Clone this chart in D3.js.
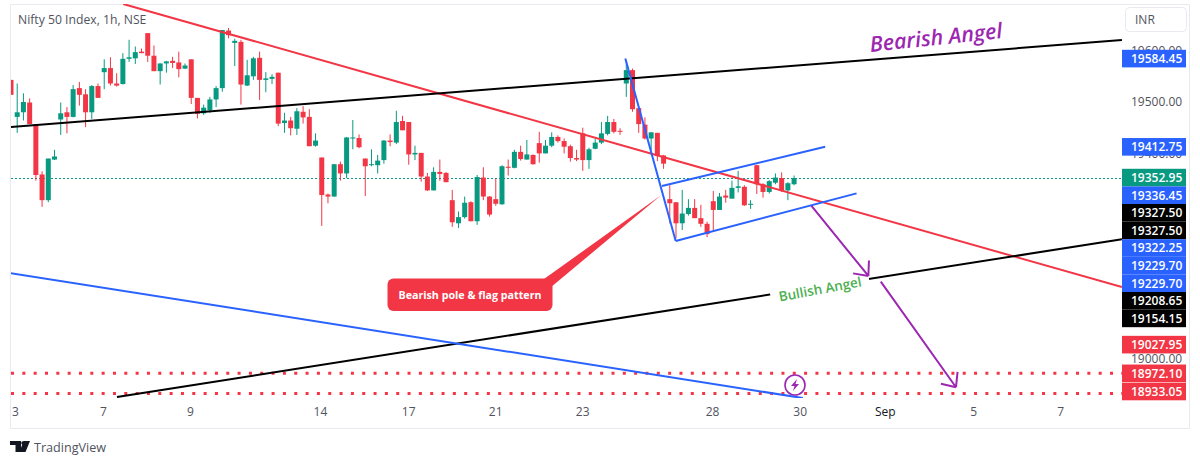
<!DOCTYPE html>
<html>
<head>
<meta charset="utf-8">
<title>Nifty 50 Index</title>
<script src="https://cdn.jsdelivr.net/npm/d3@7"></script>
<style>
    html, body { margin: 0; padding: 0; background: #fff; overflow: hidden; }
    text { font-family: "Open Sans", sans-serif; }
</style>
</head>
<body>
<div id="chart"></div>
<script>
'use strict'

// hourly candles
const opens = [19543,19471,19480,19499,19457,19359,19309,19388,19466,19480,19471,19527,19515,19480,19531,19558,19566,19536,19535,19584,19585,19598,19634,19590,19560,19575,19580,19577,19565,19583,19508,19478,19484,19505,19527,19639,19615,19617,19532,19550,19586,19543,19545,19557,19459,19464,19448,19481,19471,19415,19392,19320,19316,19379,19361,19429,19430,19390,19377,19377,19387,19425,19421,19463,19461,19398,19401,19355,19328,19364,19362,19309,19264,19276,19305,19268,19353,19316,19311,19301,19374,19372,19403,19388,19397,19420,19400,19415,19432,19424,19414,19391,19439,19387,19409,19421,19438,19461,19444,19536,19562,19488,19456,19429,19440,19396,19311,19305,19264,19282,19294,19274,19263,19307,19290,19318,19312,19333,19335,19300,19377,19340,19325,19343,19352,19328,19340];
const highs = [19543,19536,19517,19507,19457,19365,19390,19407,19499,19490,19533,19539,19525,19533,19536,19583,19587,19556,19595,19621,19608,19604,19634,19610,19575,19580,19588,19598,19575,19583,19508,19495,19510,19531,19640,19644,19623,19621,19582,19588,19598,19558,19554,19557,19479,19471,19488,19492,19486,19439,19392,19322,19379,19384,19432,19465,19437,19390,19408,19397,19426,19437,19483,19473,19461,19415,19401,19362,19373,19388,19364,19329,19287,19316,19307,19358,19373,19317,19351,19377,19388,19407,19415,19426,19398,19442,19426,19441,19435,19429,19417,19407,19450,19411,19429,19461,19473,19467,19449,19581,19565,19488,19470,19441,19440,19397,19338,19305,19329,19311,19311,19300,19267,19327,19323,19329,19347,19366,19338,19309,19378,19342,19348,19361,19363,19344,19357];
const lows = [19514,19440,19464,19457,19347,19296,19305,19387,19436,19439,19470,19493,19451,19467,19508,19525,19532,19530,19534,19578,19574,19595,19578,19560,19534,19557,19566,19548,19564,19496,19468,19475,19479,19490,19520,19624,19570,19495,19531,19543,19504,19519,19535,19453,19440,19435,19436,19458,19414,19413,19259,19303,19316,19347,19352,19408,19410,19317,19375,19361,19380,19414,19418,19445,19378,19387,19345,19327,19328,19347,19344,19257,19255,19273,19268,19261,19309,19277,19298,19300,19357,19371,19386,19388,19378,19382,19400,19412,19421,19400,19384,19385,19366,19370,19408,19418,19435,19439,19436,19510,19481,19440,19427,19406,19385,19370,19264,19235,19251,19279,19274,19257,19237,19250,19290,19304,19312,19324,19298,19292,19321,19314,19322,19340,19325,19309,19338];
const closes = [19514,19480,19500,19457,19358,19309,19390,19394,19478,19471,19525,19514,19480,19531,19508,19566,19536,19532,19584,19587,19597,19595,19590,19560,19575,19579,19576,19564,19571,19508,19477,19489,19505,19527,19640,19630,19619,19534,19552,19585,19543,19546,19549,19458,19464,19449,19482,19470,19414,19425,19319,19316,19379,19361,19431,19431,19412,19375,19379,19386,19425,19422,19461,19445,19398,19401,19355,19328,19364,19360,19344,19266,19276,19304,19268,19354,19316,19281,19302,19375,19372,19403,19389,19398,19379,19400,19415,19432,19424,19413,19391,19388,19387,19408,19421,19439,19461,19442,19442,19562,19486,19457,19429,19441,19395,19380,19303,19264,19283,19294,19274,19263,19243,19290,19316,19314,19333,19336,19299,19302,19340,19325,19346,19353,19327,19342,19352];

const tickPositions = [0.64, 14.8, 28.8, 49.7, 63.9, 77.9, 91.9, 112.8, 126.9, 140.6, 154.8, 168.8];
const tickLabels = ["3", "7", "9", "14", "17", "21", "23", "28", "30", "Sep", "5", "7"];
const priceTicks = [19600, 19500, 19400, 19000];

// price tags on the right, top to bottom
const tagPrices = [19584.45, 19412.75, 19352.95, 19336.45, 19327.50, 19327.50, 19322.25, 19229.70, 19229.70, 19208.65, 19154.15, 19027.95, 18972.10, 18933.05];
const tagKinds = ["blue", "blue", "last", "blue", "black", "black", "blue", "blue", "blue", "black", "black", "red", "red", "red"];

// drawings as [bar, price, bar, price]
const blackLines = [[-0.2, 19451.4, 178.75, 19620.6], [17.05, 18926, 178.75, 19233]];
const redLines = [[18.05, 19690.7, 178.75, 19140]];
const blueLines = [
    [-0.2, 19167.3, 127.4, 18924],
    [98.85, 19584.45, 106.95, 19229.70],
    [106.95, 19229.70, 136.05, 19322.25],
    [104.75, 19336.45, 131, 19412.75]
];
const arrows = [[128.8, 19298, 137.95, 19161.5], [139.95, 19150.4, 152.05, 18945]];
const supportLevels = [18972.10, 18933.05];
const lastPrice = 19352.95;
const calloutTip = [104.65, 19319];

const red = "#f23645";
const green = "#089981";
const blue = "#2962ff";
const purple = "#9c27b0";
const grey = "#50535e";

const width = 1200;
const height = 465;
const plot = { left: 11, right: 1122, top: 4, bottom: 398 };

const svg = d3.select("#chart")
    .append("svg")
    .attr("width", width)
    .attr("height", height)
    .style("display", "block");

const x = d3.scaleLinear().domain([0, 126]).range([11, 11 + 126 * 6.215]);
const y = d3.scaleLinear().domain([19500, 19000]).range([102, 359]);

// frame
svg.append("path")
    .attr("d", "M10.5,4.5H1189.5V428.5H10.5Z")
    .attr("fill", "none")
    .attr("stroke", "#e9eaef");

svg.append("clipPath").attr("id", "plot-clip")
    .append("rect")
    .attr("x", plot.left)
    .attr("y", plot.top)
    .attr("width", plot.right - plot.left)
    .attr("height", plot.bottom - plot.top);

const pane = svg.append("g").attr("clip-path", "url(#plot-clip)");

// last price line sits under the candles
pane.append("line")
    .attr("x1", plot.left).attr("x2", plot.right)
    .attr("y1", Math.round(y(lastPrice)) + 0.5).attr("y2", Math.round(y(lastPrice)) + 0.5)
    .attr("stroke", green)
    .attr("stroke-dasharray", "2 2");

// candles
const candles = pane.selectAll(".candle")
    .data(opens.map((o, i) => ({ i, o, h: highs[i], l: lows[i], c: closes[i] })))
    .enter().append("g")
    .attr("class", "candle");

candles.append("line")
    .attr("x1", d => x(d.i)).attr("x2", d => x(d.i))
    .attr("y1", d => y(d.h)).attr("y2", d => y(d.l))
    .attr("stroke", d => d.c >= d.o ? green : red);

candles.append("rect")
    .attr("x", d => x(d.i) - 2.5)
    .attr("width", 5)
    .attr("y", d => y(Math.max(d.o, d.c)))
    .attr("height", d => Math.max(1, Math.abs(y(d.o) - y(d.c))))
    .attr("fill", d => d.c >= d.o ? green : red);

// dotted support levels
pane.selectAll(".support")
    .data(supportLevels)
    .enter().append("line")
    .attr("class", "support")
    .attr("x1", plot.left).attr("x2", plot.right)
    .attr("y1", d => y(d)).attr("y2", d => y(d))
    .attr("stroke", red)
    .attr("stroke-width", 3)
    .attr("stroke-dasharray", "3 8.33");

function drawLines(data, color, lineWidth) {
    pane.selectAll(null)
        .data(data)
        .enter().append("line")
        .attr("x1", d => x(d[0])).attr("y1", d => y(d[1]))
        .attr("x2", d => x(d[2])).attr("y2", d => y(d[3]))
        .attr("stroke", color)
        .attr("stroke-width", lineWidth);
}

drawLines(redLines, red, 2);
drawLines(blackLines, "#000", 2);
drawLines(blueLines, blue, 2);

// callout with its tail
pane.append("path")
    .attr("d", `M${x(calloutTip[0])},${y(calloutTip[1])}L552.3,286L544,279Z`)
    .attr("fill", red);
pane.append("rect")
    .attr("x", 387.5).attr("y", 278.5)
    .attr("width", 165).attr("height", 32.5)
    .attr("rx", 6)
    .attr("fill", red);
pane.append("text")
    .attr("x", 470).attr("y", 298.5)
    .attr("text-anchor", "middle")
    .style("font-size", "10.7px")
    .style("font-weight", 700)
    .style("fill", "#fff")
    .text("Bearish pole & flag pattern");

// Bullish Angel label breaks the lower black line
const bullish = pane.append("g").attr("transform", "translate(820,289) rotate(-10.5)");
bullish.append("rect")
    .attr("x", -50).attr("y", -10)
    .attr("width", 100).attr("height", 20)
    .attr("fill", "#fff");
bullish.append("text")
    .attr("text-anchor", "middle")
    .attr("y", 5)
    .style("font-size", "13.5px")
    .style("font-weight", 600)
    .style("fill", "#4caf50")
    .text("Bullish Angel");

pane.append("text")
    .attr("transform", "translate(936,38) rotate(-6)")
    .attr("text-anchor", "middle")
    .attr("y", 7)
    .style("font-size", "21.4px")
    .style("font-weight", 600)
    .style("font-style", "italic")
    .style("fill", purple)
    .text("Bearish Angel");

// purple arrows
arrows.forEach(a => {
    const x1 = x(a[2]);
    const y1 = y(a[3]);
    const angle = Math.atan2(y1 - y(a[1]), x1 - x(a[0]));
    const head = d3.path();
    head.moveTo(x(a[0]), y(a[1]));
    head.lineTo(x1, y1);
    [-0.72, 0.72].forEach(s => {
        head.moveTo(x1, y1);
        head.lineTo(x1 - 15.5 * Math.cos(angle + s), y1 - 15.5 * Math.sin(angle + s));
    });
    pane.append("path")
        .attr("d", head.toString())
        .attr("fill", "none")
        .attr("stroke", purple)
        .attr("stroke-width", 2);
});

// lightning marker
const marker = pane.append("g").attr("transform", "translate(795,385)");
marker.append("circle")
    .attr("r", 10)
    .attr("fill", "#fff")
    .attr("stroke", purple)
    .attr("stroke-width", 1.6);
marker.append("path")
    .attr("d", "M2,-6L-4,1H-0.5L-2,6L4,-1H0.5Z")
    .attr("fill", purple);

// price axis
const priceAxis = svg.append("g")
    .attr("transform", `translate(1128,0)`)
    .call(d3.axisRight(y).tickValues(priceTicks).tickSize(0).tickFormat(d => d.toFixed(2)));
priceAxis.select(".domain").remove();
priceAxis.selectAll("text")
    .attr("x", 3)
    .style("font-family", '"Open Sans", sans-serif')
    .style("font-size", "12px")
    .style("fill", grey);

// time axis
const timeAxis = svg.append("g")
    .attr("transform", "translate(0,404)")
    .call(d3.axisBottom(x).tickValues(tickPositions).tickSize(0).tickFormat((d, i) => tickLabels[i]));
timeAxis.select(".domain").remove();
timeAxis.selectAll("text")
    .attr("y", 3)
    .style("font-family", '"Open Sans", sans-serif')
    .style("font-size", "12px")
    .style("fill", (d, i) => tickLabels[i] === "Sep" ? "#131722" : grey);

// price tags, pushed down where they would overlap
const tagColors = { blue: blue, last: green, black: "#000", red: red };
const tagHeight = 17.6;
let lastTagY = -100;
const tags = tagPrices.map((p, i) => {
    lastTagY = Math.min(Math.max(y(p), lastTagY + tagHeight), 391.5);
    return { price: p, kind: tagKinds[i], cy: lastTagY };
});

const tag = svg.selectAll(".tag")
    .data(tags)
    .enter().append("g")
    .attr("class", "tag")
    .attr("transform", d => `translate(1122,${d.cy})`);

tag.append("rect")
    .attr("x", 0)
    .attr("y", -tagHeight / 2)
    .attr("width", 64)
    .attr("height", tagHeight)
    .attr("fill", d => tagColors[d.kind]);

tag.append("text")
    .attr("x", 9)
    .attr("y", 4.4)
    .style("font-size", "12px")
    .style("font-weight", 600)
    .style("fill", "#fff")
    .text(d => d.price.toFixed(2));

// currency button
svg.append("rect")
    .attr("x", 1125.5).attr("y", 7.5)
    .attr("width", 61).attr("height", 24)
    .attr("rx", 4)
    .attr("fill", "#fff")
    .attr("stroke", "#e9eaef");
svg.append("text")
    .attr("x", 1135).attr("y", 24)
    .style("font-size", "12px")
    .style("fill", grey)
    .text("INR");

svg.append("text")
    .attr("x", 18).attr("y", 24)
    .style("font-size", "12.2px")
    .style("fill", grey)
    .text("Nifty 50 Index, 1h, NSE");

// TradingView logo
svg.append("path")
    .attr("d", "M10,441H21V452H15.5V445H10ZM23.5,441H30L25.5,452H19.5Z")
    .attr("fill", "#131722");
svg.append("circle")
    .attr("cx", 23).attr("cy", 443).attr("r", 1.8)
    .attr("fill", "#131722");
svg.append("text")
    .attr("x", 34).attr("y", 452)
    .style("font-size", "12.6px")
    .style("fill", grey)
    .text("TradingView");
</script>
</body>
</html>
